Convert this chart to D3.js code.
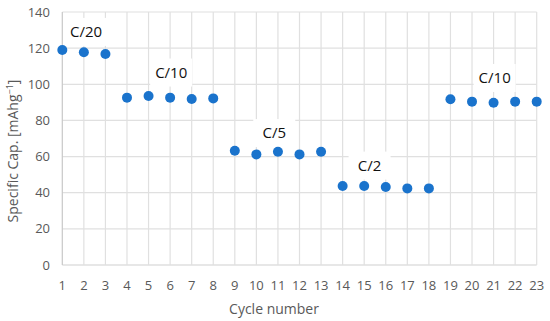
<!DOCTYPE html>
<html>
<head>
<meta charset="utf-8">
<script src="https://cdn.jsdelivr.net/npm/d3@7"></script>
<style>
  body { margin: 0; background: #fff; }
  text { font-family: "Open Sans", sans-serif; }
</style>
</head>
<body>
<div id="chart"></div>
<script>
const cycles = d3.range(1, 24);
const capacity = [119, 117.7, 116.8, 92.6, 93.5, 92.6, 91.9, 92.2, 63.2, 61.2, 62.7, 61.2, 62.7,
  43.7, 43.7, 43.2, 42.4, 42.4, 91.7, 90.4, 89.8, 90.4, 90.4];
const yTicks = [0, 20, 40, 60, 80, 100, 120, 140];
// rate labels: text, cycle position, value position
const rateLabels = [
  {text: "C/20", cycle: 2.1, value: 129},
  {text: "C/10", cycle: 6.05, value: 106.5},
  {text: "C/5", cycle: 10.83, value: 73},
  {text: "C/2", cycle: 15.25, value: 55},
  {text: "C/10", cycle: 21.05, value: 103.5}
];

const width = 550, height = 321;
const margin = {left: 62.3, top: 12, right: 13.3, bottom: 56};

const svg = d3.select("#chart").append("svg")
  .attr("width", width)
  .attr("height", height);

const x = d3.scaleLinear().domain([1, 23]).range([margin.left, width - margin.right]);
const y = d3.scaleLinear().domain([0, 140]).range([height - margin.bottom, margin.top]);

// grid
svg.append("g").selectAll("line.h")
  .data(yTicks)
  .enter().append("line")
  .attr("x1", x(1)).attr("x2", x(23))
  .attr("y1", d => y(d)).attr("y2", d => y(d))
  .attr("stroke", d => d === 0 ? "#d0d0d0" : "#e0e0e0")
  .attr("stroke-width", 1.2);

svg.append("g").selectAll("line.v")
  .data(cycles)
  .enter().append("line")
  .attr("x1", d => x(d)).attr("x2", d => x(d))
  .attr("y1", y(0)).attr("y2", y(140))
  .attr("stroke", d => d === 1 ? "#c8c8c8" : "#e0e0e0")
  .attr("stroke-width", 1.2);

// tick labels
svg.append("g").selectAll("text")
  .data(yTicks)
  .enter().append("text")
  .attr("x", 50)
  .attr("y", d => y(d))
  .attr("dy", "0.35em")
  .attr("text-anchor", "end")
  .attr("fill", "#595959")
  .style("font-size", "13px")
  .text(d => d);

svg.append("g").selectAll("text")
  .data(cycles)
  .enter().append("text")
  .attr("x", d => x(d))
  .attr("y", 285)
  .attr("dy", "0.35em")
  .attr("text-anchor", "middle")
  .attr("fill", "#595959")
  .style("font-size", "13px")
  .text(d => d);

// axis titles
svg.append("text")
  .attr("x", 274)
  .attr("y", 309)
  .attr("dy", "0.35em")
  .attr("text-anchor", "middle")
  .attr("fill", "#595959")
  .style("font-size", "14px")
  .text("Cycle number");

const yTitle = svg.append("text")
  .attr("transform", "translate(13,151) rotate(-90)")
  .attr("dy", "0.35em")
  .attr("text-anchor", "middle")
  .attr("fill", "#595959")
  .style("font-size", "14px");
yTitle.append("tspan").text("Specific Cap. [mAhg");
yTitle.append("tspan").attr("dy", -5).style("font-size", "9px").text("−1");
yTitle.append("tspan").attr("dy", 5).text("]");

// rate labels with white boxes
const lab = svg.append("g").selectAll("g")
  .data(rateLabels)
  .enter().append("g")
  .attr("transform", d => "translate(" + x(d.cycle) + "," + y(d.value) + ")");

lab.append("rect")
  .attr("x", -21).attr("y", -14)
  .attr("width", 42).attr("height", 28)
  .attr("fill", "#fff");

lab.append("text")
  .attr("text-anchor", "middle")
  .attr("dy", "0.35em")
  .attr("fill", "#111")
  .style("font-size", "15px")
  .text(d => d.text);

// points
svg.append("g").selectAll("circle")
  .data(cycles)
  .enter().append("circle")
  .attr("cx", (d, i) => x(d))
  .attr("cy", (d, i) => y(capacity[i]))
  .attr("r", 5)
  .attr("fill", "#1a73cc");
</script>
</body>
</html>
